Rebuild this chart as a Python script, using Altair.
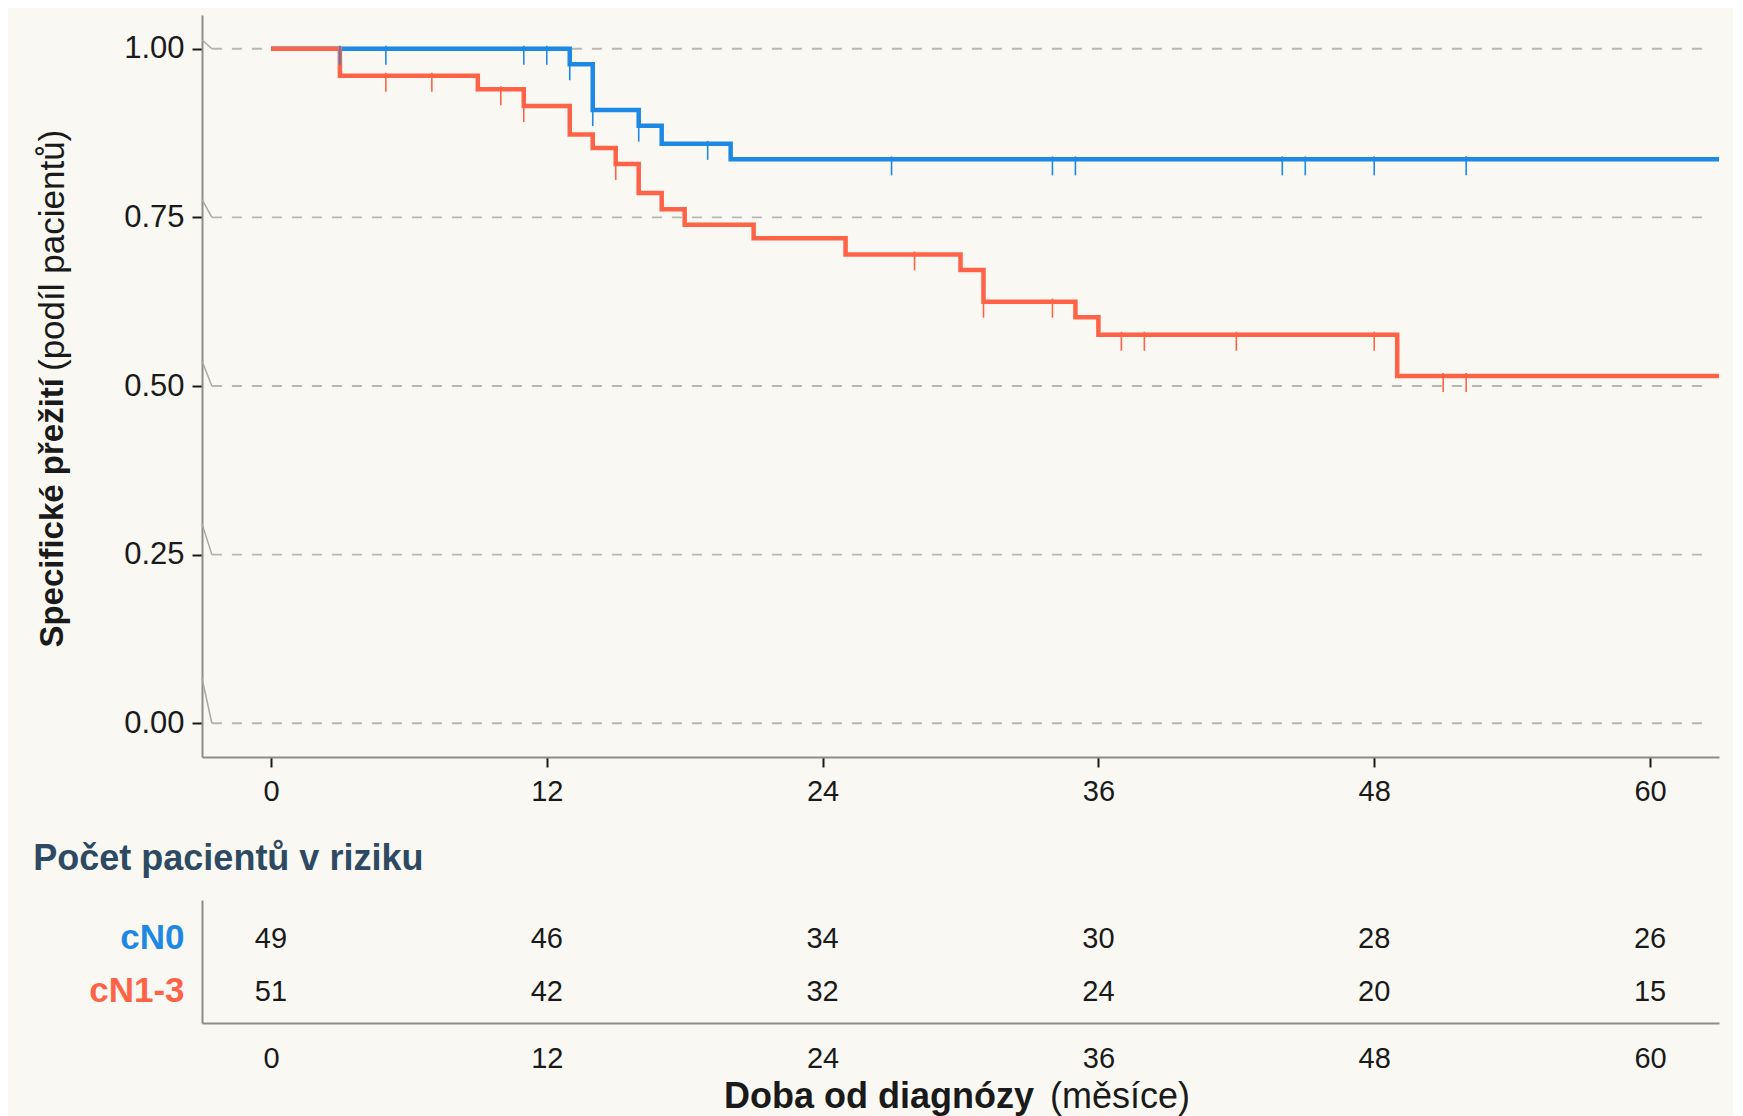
import altair as alt
import pandas as pd

# ---------------- data ----------------
groups = ["cN0", "cN1-3"]
group_colors = ["#1E88E5", "#FF6347"]

# Kaplan-Meier steps (time in months, survival proportion)
cn0_time = [0, 13, 14, 16, 17, 20, 63]
cn0_surv = [1.000, 0.977, 0.909, 0.886, 0.859, 0.836, 0.836]
cn0_censor = [3, 5, 11, 12, 13, 14, 16, 19, 27, 34, 35, 44, 45, 48, 52]

cn13_time = [0, 3, 9, 11, 13, 14, 15, 16, 17, 18, 21, 25, 30, 31, 35, 36, 49, 63]
cn13_surv = [1.000, 0.960, 0.940, 0.915, 0.873, 0.853, 0.829, 0.786, 0.762,
             0.739, 0.719, 0.695, 0.672, 0.625, 0.602, 0.576, 0.515, 0.515]
cn13_censor = [5, 7, 10, 11, 15, 28, 31, 34, 37, 38, 42, 48, 51, 52]

# numbers at risk
risk_times = [0, 12, 24, 36, 48, 60]
risk_cn0 = [49, 46, 34, 30, 28, 26]
risk_cn13 = [51, 42, 32, 24, 20, 15]

x_ticks = [0, 12, 24, 36, 48, 60]
y_ticks = [0.0, 0.25, 0.50, 0.75, 1.00]

y_title_bold = "Specifické přežití"
y_title_rest = "(podíl pacientů)"
x_title_bold = "Doba od diagnózy"
x_title_rest = "(měsíce)"
risk_title = "Počet pacientů v riziku"

# ---------------- styling / layout ----------------
W, H, TH = 1517, 742, 123
X_DOMAIN = [-3, 63]
Y_DOMAIN = [-0.05, 1.05]
PX_PER_UNIT = H / (Y_DOMAIN[1] - Y_DOMAIN[0])
BLUE, RED = group_colors
INK = "#1A1A1A"
AXIS_GREY = "#8C8C8C"
BG = "#F9F8F3"
stub_px = [45, 31, 25, 18, 9]  # little diagonal strokes at the grid line starts


def surv_at(times, survs, t):
    s = survs[0]
    for ti, si in zip(times, survs):
        if ti <= t:
            s = si
    return s


xscale = alt.Scale(domain=X_DOMAIN, nice=False, zero=False)
yscale = alt.Scale(domain=Y_DOMAIN, nice=False, zero=False)

x_axis = alt.Axis(values=x_ticks, title=None, grid=False, domainColor=AXIS_GREY,
                  domainWidth=2, tickColor=INK, tickWidth=2, tickSize=10,
                  labelFontSize=29, labelColor=INK, labelPadding=10, labelFlush=False)
y_axis = alt.Axis(values=y_ticks, format=".2f", title=None, grid=False,
                  domainColor=AXIS_GREY, domainWidth=2, tickColor=INK, tickWidth=2,
                  tickSize=10, labelFontSize=31, labelColor=INK, labelPadding=8)


def X(field):
    return alt.X(field, type="quantitative", scale=xscale, axis=x_axis)


def Y(field):
    return alt.Y(field, type="quantitative", scale=yscale, axis=y_axis)


# grid lines
grid_df = pd.DataFrame({
    "g": y_ticks,
    "x0": [-2.57] * len(y_ticks),
    "x1": [62.3] * len(y_ticks),
    "xs": [X_DOMAIN[0]] * len(y_ticks),
    "gs": [g + h / PX_PER_UNIT for g, h in zip(y_ticks, stub_px)],
})
grid = alt.Chart(grid_df).mark_rule(
    color="#BAB7B0", strokeWidth=1.8, strokeDash=[10, 10]
).encode(x=X("x0"), x2="x1", y=Y("g"))
stubs = alt.Chart(grid_df).mark_rule(color="#ABA9A4", strokeWidth=1.5).encode(
    x=X("xs"), x2="x0", y=Y("gs"), y2="g"
)

# survival curves
blue_df = pd.DataFrame({"time": cn0_time, "surv": cn0_surv})
red_df = pd.DataFrame({"time": cn13_time, "surv": cn13_surv})
blue_line = alt.Chart(blue_df).mark_line(
    interpolate="step-after", color=BLUE, strokeWidth=4.5, clip=True
).encode(x=X("time"), y=Y("surv"))
red_line = alt.Chart(red_df).mark_line(
    interpolate="step-after", color=RED, strokeWidth=4.5, clip=True
).encode(x=X("time"), y=Y("surv"))


def censor_df(times, survs, cens):
    s = [surv_at(times, survs, t) for t in cens]
    return pd.DataFrame({
        "time": cens,
        "top": [v + 3 / PX_PER_UNIT for v in s],
        "bot": [v - 16 / PX_PER_UNIT for v in s],
    })


blue_cens = alt.Chart(censor_df(cn0_time, cn0_surv, cn0_censor)).mark_rule(
    color=BLUE, strokeWidth=1.6
).encode(x=X("time"), y=Y("top"), y2="bot")
red_cens = alt.Chart(censor_df(cn13_time, cn13_surv, cn13_censor)).mark_rule(
    color=RED, strokeWidth=1.6
).encode(x=X("time"), y=Y("top"), y2="bot")

ytb = alt.Chart(pd.DataFrame({"t": [y_title_bold]})).mark_text(
    angle=270, align="right", baseline="middle", fontSize=33, fontWeight="bold", color=INK
).encode(x=alt.value(-148.7), y=alt.value(363), text="t:N")
ytr = alt.Chart(pd.DataFrame({"t": [y_title_rest]})).mark_text(
    angle=270, align="left", baseline="middle", fontSize=35, color=INK
).encode(x=alt.value(-148.7), y=alt.value(356), text="t:N")

km = alt.layer(grid, stubs, blue_line, red_line, blue_cens, red_cens, ytb, ytr).properties(
    width=W, height=H
)

# ---------------- risk table ----------------
risk_df = pd.DataFrame({
    "time": risk_times + risk_times,
    "group": [groups[0]] * len(risk_times) + [groups[1]] * len(risk_times),
    "n": risk_cn0 + risk_cn13,
})
tx_axis = alt.Axis(values=x_ticks, title=None, grid=False, ticks=False, tickSize=0,
                   domainColor=AXIS_GREY, domainWidth=2, labelFontSize=29,
                   labelColor=INK, labelPadding=21, labelFlush=False)
ty_axis = alt.Axis(title=None, grid=False, ticks=False, tickSize=0,
                   domainColor=AXIS_GREY, domainWidth=2, labelFontSize=35,
                   labelFontWeight="bold", labelPadding=18, labelOffset=2.5,
                   labelColor={"condition": {"test": "datum.value == 'cN0'", "value": BLUE},
                               "value": RED})
ty_scale = alt.Scale(type="point", domain=groups, padding=0.64)

risk_nums = alt.Chart(risk_df).mark_text(
    fontSize=29, color=INK, baseline="middle", dy=4
).encode(
    x=alt.X("time:Q", scale=xscale, axis=tx_axis),
    y=alt.Y("group:N", scale=ty_scale, axis=ty_axis),
    text="n:Q",
)
rtitle = alt.Chart(pd.DataFrame({"t": [risk_title]})).mark_text(
    align="left", baseline="middle", fontSize=36, fontWeight="bold", color="#2D4A62"
).encode(x=alt.value(-168.7), y=alt.value(-41), text="t:N")
xtb = alt.Chart(pd.DataFrame({"t": [x_title_bold]})).mark_text(
    align="right", baseline="middle", fontSize=36, fontWeight="bold", color=INK
).encode(x=alt.value(832), y=alt.value(197), text="t:N")
xtr = alt.Chart(pd.DataFrame({"t": [x_title_rest]})).mark_text(
    align="left", baseline="middle", fontSize=36, color=INK
).encode(x=alt.value(848), y=alt.value(197), text="t:N")

table = alt.layer(risk_nums, rtitle, xtb, xtr).properties(width=W, height=TH)

chart = alt.vconcat(km, table, spacing=143, bounds="flush").properties(
    background=BG,
    padding={"left": 25, "top": 7, "right": 14, "bottom": 5},
).configure(font="Liberation Sans").configure_view(stroke=None)

chart.save("out.html", embed_options={"renderer": "svg", "actions": False})
